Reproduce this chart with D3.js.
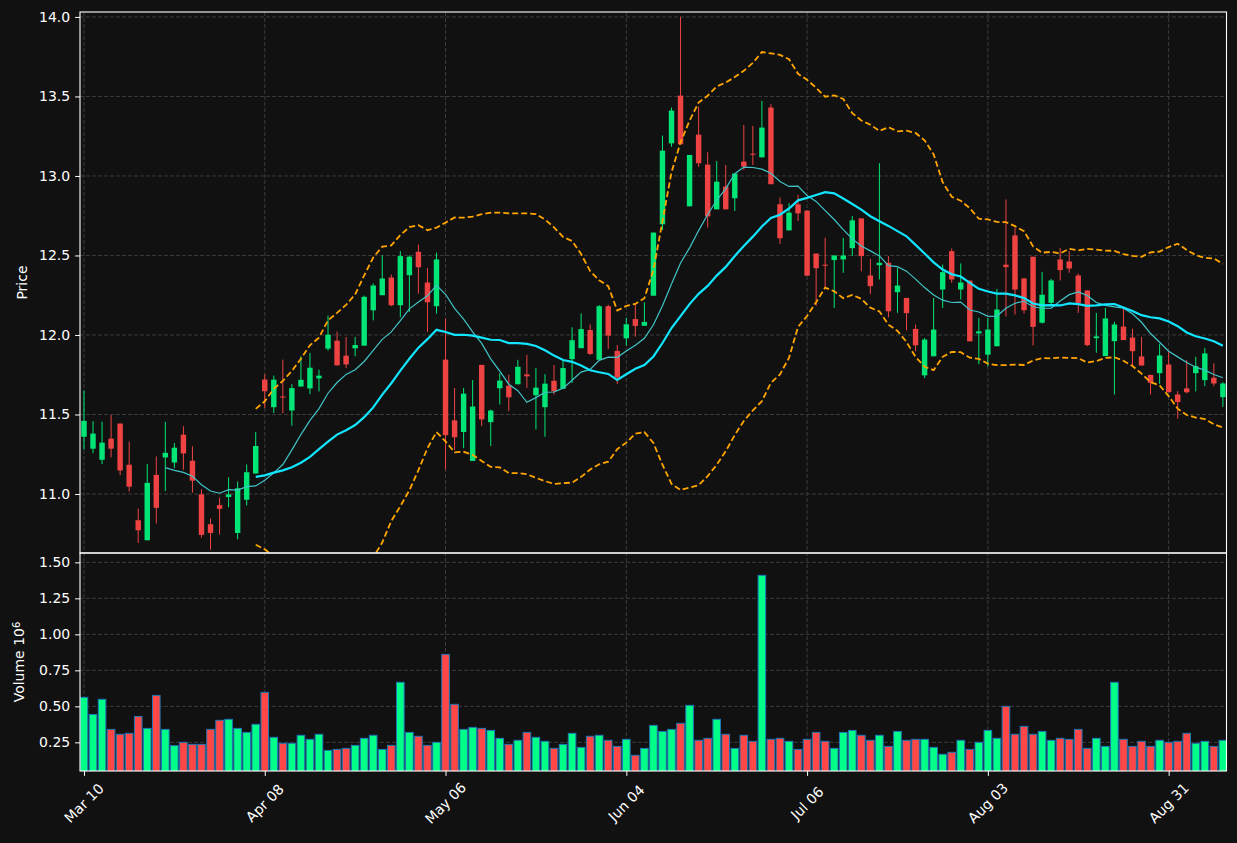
<!DOCTYPE html>
<html>
<head>
<meta charset="utf-8">
<script src="https://cdnjs.cloudflare.com/ajax/libs/d3/7.8.5/d3.min.js"></script>
<style>
  body { margin: 0; background: #111111; }
  text { font-family: "DejaVu Sans", sans-serif; fill: #ffffff; }
</style>
</head>
<body>
<svg id="chart" width="1237" height="843"></svg>
<script>

// Daily OHLC, one entry per trading day
var opens = [11.36,11.285,11.215,11.348,11.443,11.184,10.835,10.709,11.12,11.23,
  11.198,11.373,11.209,10.998,10.81,10.93,10.981,10.755,10.964,11.129,
  11.72,11.546,11.613,11.525,11.676,11.664,11.727,11.914,11.964,11.87,
  11.916,11.933,12.155,12.25,12.361,12.187,12.376,12.523,12.33,12.181,
  11.845,11.463,11.39,11.208,11.812,11.452,11.665,11.681,11.69,11.752,
  11.621,11.546,11.712,11.662,11.848,11.917,12.031,11.844,12.181,11.90,
  11.979,12.10,12.058,12.247,12.696,13.205,13.505,12.809,13.26,13.071,
  12.79,12.933,12.86,13.09,13.14,13.117,13.43,12.822,12.658,12.822,
  12.782,12.512,12.442,12.471,12.475,12.546,12.733,12.374,12.439,12.454,
  12.269,12.233,12.038,11.746,11.866,12.286,12.527,12.286,12.342,12.01,
  11.876,11.929,12.442,12.626,12.355,12.492,12.077,12.202,12.475,12.462,
  12.374,12.28,11.98,11.867,11.961,12.053,11.984,11.865,11.749,11.76,
  11.814,11.626,11.664,11.76,11.716,11.731,11.609];
var highs = [11.65,11.458,11.454,11.496,11.443,11.329,10.909,11.188,11.236,11.454,
  11.321,11.426,11.30,11.03,10.846,10.977,11.105,11.078,11.186,11.39,
  11.752,11.745,11.845,11.691,11.866,11.887,11.782,12.122,12.021,11.987,
  11.987,12.248,12.324,12.5,12.38,12.527,12.50,12.569,12.422,12.517,
  12.103,11.667,11.667,11.717,11.812,11.531,11.76,11.75,11.844,11.875,
  11.792,11.754,11.812,11.844,12.048,12.135,12.067,12.188,12.19,11.937,
  12.108,12.195,12.205,12.644,13.254,13.43,14.0,13.132,13.436,13.149,
  13.094,13.069,13.015,13.321,13.314,13.472,13.451,12.864,12.828,12.881,
  12.782,12.512,12.612,12.50,12.611,12.748,12.733,12.479,13.08,12.496,
  12.422,12.233,12.065,11.981,12.233,12.443,12.544,12.45,12.342,12.107,
  12.107,12.29,12.852,12.674,12.36,12.492,12.397,12.353,12.548,12.527,
  12.387,12.28,12.139,12.171,12.083,12.165,12.039,11.988,11.749,11.944,
  11.898,11.647,11.842,11.863,11.919,11.821,11.703];
var lows = [11.28,11.257,11.188,11.23,11.118,11.015,10.692,10.709,10.814,11.019,
  11.162,11.152,11.008,10.726,10.65,10.745,10.916,10.715,10.928,11.129,
  11.54,11.509,11.508,11.429,11.676,11.628,11.645,11.901,11.809,11.792,
  11.866,11.933,12.092,12.25,12.181,12.111,12.145,12.26,12.019,12.134,
  11.153,11.277,11.288,11.208,11.427,11.302,11.563,11.521,11.69,11.667,
  11.406,11.36,11.625,11.662,11.698,11.917,11.875,11.844,11.912,11.692,
  11.933,11.99,12.058,12.247,12.66,13.184,13.199,12.809,13.057,12.675,
  12.79,12.79,12.78,13.038,13.069,13.117,12.948,12.572,12.658,12.717,
  12.373,12.183,12.294,12.17,12.391,12.496,12.401,12.258,12.349,12.111,
  12.139,12.029,11.897,11.729,11.866,12.17,12.328,12.223,11.96,11.817,
  11.803,11.929,12.116,12.129,12.135,11.934,12.072,12.181,12.343,12.391,
  12.139,11.93,11.888,11.867,11.626,11.968,11.81,11.808,11.626,11.693,
  11.64,11.473,11.632,11.645,11.678,11.678,11.548];
var closes = [11.46,11.38,11.323,11.285,11.148,11.046,10.772,11.07,10.913,11.259,
  11.291,11.255,11.084,10.743,10.755,10.907,10.998,11.036,11.137,11.302,
  11.646,11.719,11.609,11.666,11.718,11.794,11.744,12.002,11.809,11.815,
  11.937,12.24,12.311,12.355,12.187,12.496,12.492,12.426,12.206,12.475,
  11.37,11.357,11.631,11.55,11.469,11.525,11.713,11.608,11.80,11.74,
  11.669,11.694,11.646,11.792,11.967,12.037,11.881,12.181,11.996,11.733,
  12.067,12.057,12.082,12.644,13.159,13.411,13.199,13.132,13.08,12.746,
  12.964,12.79,13.015,13.059,13.136,13.304,12.948,12.608,12.769,12.765,
  12.373,12.42,12.438,12.50,12.50,12.721,12.496,12.307,12.454,12.149,
  12.311,12.137,11.935,11.971,12.034,12.395,12.349,12.33,11.96,12.023,
  12.034,12.16,12.427,12.286,12.156,12.051,12.253,12.343,12.408,12.418,
  12.202,11.936,11.991,12.104,12.066,11.968,11.898,11.808,11.699,11.871,
  11.64,11.578,11.64,11.804,11.884,11.695,11.695];
// volume in millions
var volumes = [0.5625,0.444,0.549,0.340,0.306,0.3125,0.43,0.347,0.576,0.34,
  0.227,0.25,0.236,0.236,0.34,0.403,0.41,0.347,0.319,0.375,
  0.597,0.285,0.243,0.243,0.299,0.271,0.306,0.194,0.201,0.208,
  0.229,0.278,0.299,0.201,0.229,0.667,0.319,0.292,0.229,0.25,
  0.861,0.514,0.34,0.354,0.347,0.333,0.278,0.236,0.264,0.319,
  0.285,0.257,0.208,0.236,0.3125,0.215,0.292,0.299,0.264,0.222,
  0.271,0.16,0.208,0.368,0.326,0.34,0.382,0.507,0.264,0.278,
  0.41,0.306,0.208,0.299,0.257,1.41,0.271,0.278,0.257,0.201,
  0.271,0.319,0.257,0.208,0.319,0.333,0.299,0.264,0.299,0.222,
  0.326,0.264,0.271,0.271,0.215,0.167,0.181,0.264,0.201,0.25,
  0.333,0.278,0.5,0.306,0.361,0.306,0.326,0.264,0.278,0.271,
  0.34,0.208,0.278,0.222,0.667,0.271,0.222,0.257,0.222,0.264,
  0.25,0.257,0.3125,0.243,0.257,0.222,0.264];

var tickIndex = [0, 20, 40, 60, 80, 100, 120];
var tickLabels = ["Mar 10", "Apr 08", "May 06", "Jun 04", "Jul 06", "Aug 03", "Aug 31"];
var priceTicks = [11.0, 11.5, 12.0, 12.5, 13.0, 13.5, 14.0];
var volumeTicks = [0.25, 0.50, 0.75, 1.00, 1.25, 1.50];

var mavShort = 10, mavLong = 20, bandWidth = 2;

(function() {

    // colours
    var upColor = "#00e676", downColor = "#ef4343";
    var volUp = "#00ff88", volDown = "#ff4747", volEdge = "#1f77b4";
    var gridColor = "#3c3c3c";

    // layout (window.top is read-only, hence the local scope)
    var left = 80, right = 1226.5, topY = 12, split = 553, bottom = 771;

    var svg = d3.select("#chart");
    svg.append("rect").attr("width", 1237).attr("height", 843).attr("fill", "#111111");

    var n = closes.length;
    var idx = d3.range(n);

    var x = d3.scaleLinear().domain([-0.44, 126.4]).range([left, right]);
    var yP = d3.scaleLinear().domain([10.629, 14.031]).range([split, topY]);
    var yV = d3.scaleLinear().domain([0.051, 1.565]).range([bottom, split]);

    var defs = svg.append("defs");
    defs.append("clipPath").attr("id", "clipP").append("rect")
        .attr("x", left).attr("y", topY).attr("width", right - left).attr("height", split - topY);
    defs.append("clipPath").attr("id", "clipV").append("rect")
        .attr("x", left).attr("y", split).attr("width", right - left).attr("height", bottom - split);

    // Grid
    var grid = svg.append("g").attr("stroke", gridColor).attr("stroke-width", 1).attr("stroke-dasharray", "4,2");
    grid.selectAll(".vg").data(tickIndex).enter().append("line")
        .attr("x1", function(d) { return x(d); }).attr("x2", function(d) { return x(d); })
        .attr("y1", topY).attr("y2", bottom);
    grid.selectAll(".hp").data(priceTicks).enter().append("line")
        .attr("x1", left).attr("x2", right)
        .attr("y1", function(d) { return yP(d); }).attr("y2", function(d) { return yP(d); });
    grid.selectAll(".hv").data(volumeTicks).enter().append("line")
        .attr("x1", left).attr("x2", right)
        .attr("y1", function(d) { return yV(d); }).attr("y2", function(d) { return yV(d); });

    // Candles
    var step = x(1) - x(0);
    var bodyW = step * 0.6;
    var candles = svg.append("g").attr("clip-path", "url(#clipP)");
    candles.selectAll("line").data(idx).enter().append("line")
        .attr("x1", function(i) { return x(i); }).attr("x2", function(i) { return x(i); })
        .attr("y1", function(i) { return yP(highs[i]); }).attr("y2", function(i) { return yP(lows[i]); })
        .attr("stroke", function(i) { return closes[i] >= opens[i] ? upColor : downColor; })
        .attr("stroke-width", 1);
    candles.selectAll("rect").data(idx).enter().append("rect")
        .attr("x", function(i) { return x(i) - bodyW / 2; })
        .attr("width", bodyW)
        .attr("y", function(i) { return yP(Math.max(opens[i], closes[i])); })
        .attr("height", function(i) { return Math.max(1, Math.abs(yP(opens[i]) - yP(closes[i]))); })
        .attr("fill", function(i) { return closes[i] >= opens[i] ? upColor : downColor; });

    // Moving averages and Bollinger bands from the closes
    function rolling(win, fn) {
        return idx.map(function(i) {
            if (i < win - 1) return null;
            return fn(closes.slice(i - win + 1, i + 1));
        });
    }
    var sma10 = rolling(mavShort, d3.mean);
    var sma20 = rolling(mavLong, d3.mean);
    var sd20 = rolling(mavLong, d3.deviation);
    var upper = idx.map(function(i) { return sma20[i] == null ? null : sma20[i] + bandWidth * sd20[i]; });
    var lower = idx.map(function(i) { return sma20[i] == null ? null : sma20[i] - bandWidth * sd20[i]; });

    function lineOf(series) {
        return d3.line()
            .defined(function(i) { return series[i] != null; })
            .x(function(i) { return x(i); })
            .y(function(i) { return yP(series[i]); })(idx);
    }
    var lines = svg.append("g").attr("clip-path", "url(#clipP)").attr("fill", "none");
    lines.append("path").attr("d", lineOf(sma10)).attr("stroke", "#40c4c8").attr("stroke-width", 1.2);
    lines.append("path").attr("d", lineOf(sma20)).attr("stroke", "#12e6ff").attr("stroke-width", 2.2);
    lines.append("path").attr("d", lineOf(upper)).attr("stroke", "#ffa500").attr("stroke-width", 1.8).attr("stroke-dasharray", "6,3");
    lines.append("path").attr("d", lineOf(lower)).attr("stroke", "#ffa500").attr("stroke-width", 1.8).attr("stroke-dasharray", "6,3");

    // Volume
    var volW = step * 0.84;
    svg.append("g").attr("clip-path", "url(#clipV)").selectAll("rect").data(idx).enter().append("rect")
        .attr("x", function(i) { return x(i) - volW / 2; })
        .attr("width", volW)
        .attr("y", function(i) { return yV(volumes[i]); })
        .attr("height", function(i) { return yV(0.051) - yV(volumes[i]) + 2; })
        .attr("fill", function(i) { return closes[i] >= opens[i] ? volUp : volDown; })
        .attr("stroke", volEdge).attr("stroke-width", 1);

    // Axes
    var axisP = d3.axisLeft(yP).tickValues(priceTicks).tickFormat(d3.format(".1f")).tickSize(4.9).tickPadding(4.9);
    var axisV = d3.axisLeft(yV).tickValues(volumeTicks).tickFormat(d3.format(".2f")).tickSize(4.9).tickPadding(4.9);
    var axisX = d3.axisBottom(x).tickValues(tickIndex).tickFormat("").tickSize(4.9);

    function styleAxis(g) {
        g.select(".domain").remove();
        g.selectAll(".tick line").attr("stroke", "#ffffff");
        g.selectAll(".tick text").attr("fill", "#ffffff").style("font-size", "14px")
            .style("font-family", "DejaVu Sans, sans-serif");
    }
    svg.append("g").attr("transform", "translate(" + left + ",0)").call(axisP).call(styleAxis);
    svg.append("g").attr("transform", "translate(" + left + ",0)").call(axisV).call(styleAxis);
    svg.append("g").attr("transform", "translate(0," + bottom + ")").call(axisX).call(styleAxis);

    svg.selectAll(".xlab").data(tickIndex).enter().append("text")
        .attr("transform", function(d) { return "translate(" + x(d) + ",803) rotate(-45)"; })
        .attr("text-anchor", "middle").attr("dominant-baseline", "central")
        .style("font-size", "14px")
        .text(function(d, k) { return tickLabels[k]; });

    // Frames
    var frame = svg.append("g").attr("fill", "none").attr("stroke", "#ffffff").attr("stroke-width", 1.1);
    frame.append("rect").attr("x", left).attr("y", topY).attr("width", right - left).attr("height", split - topY);
    frame.append("rect").attr("x", left).attr("y", split).attr("width", right - left).attr("height", bottom - split);

    // Labels
    svg.append("text").attr("transform", "translate(27," + ((topY + split) / 2) + ") rotate(-90)")
        .attr("text-anchor", "middle").style("font-size", "14px").text("Price");
    var vl = svg.append("text").attr("transform", "translate(24," + ((split + bottom) / 2) + ") rotate(-90)")
        .attr("text-anchor", "middle").style("font-size", "14px");
    vl.append("tspan").text("Volume  10");
    vl.append("tspan").attr("dy", "-0.45em").style("font-size", "10px").text("6");

})();

</script>
</body>
</html>
